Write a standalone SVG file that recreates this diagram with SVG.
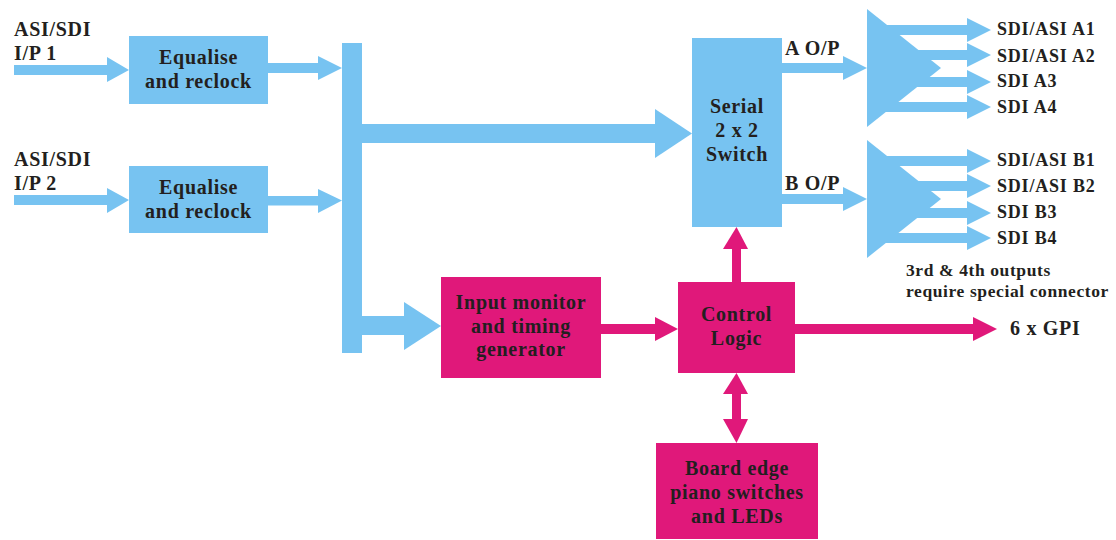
<svg xmlns="http://www.w3.org/2000/svg" width="1116" height="540" viewBox="0 0 1116 540">
<style>
text{font-family:"Liberation Serif","Times New Roman",serif;font-weight:bold;fill:#231f20;font-size:20px;letter-spacing:0.7px}
.c{text-anchor:middle}
.o{font-size:18px;letter-spacing:0.8px}
.n{font-size:17.5px;letter-spacing:0.6px}
.blue{fill:#77c3f1}
.mag{fill:#e0187a}
</style>
<rect width="1116" height="540" fill="#ffffff"/>
<g id="connectors">
  <g class="blue">
    <!-- inputs -->
    <rect x="14" y="65" width="94" height="10"/>
    <polygon points="107,57 129,70 107,82"/>
    <rect x="14" y="195" width="94" height="10"/>
    <polygon points="107,188 129,200 107,213"/>
    <!-- equaliser outputs -->
    <rect x="268" y="63" width="51" height="10"/>
    <polygon points="318,56 342,68 318,80"/>
    <rect x="268" y="196" width="51" height="9.5"/>
    <polygon points="318,189 342,200.5 318,213"/>
    <!-- bus -->
    <rect x="342" y="43" width="20" height="310"/>
    <rect x="361" y="124" width="295" height="19"/>
    <polygon points="655,109 692,133.5 655,158"/>
    <rect x="361" y="316" width="44" height="19"/>
    <polygon points="404,302 441,326 404,350"/>
    <!-- A/B outputs -->
    <rect x="782" y="63" width="62" height="10"/>
    <polygon points="843,56 867,68 843,80"/>
    <rect x="782" y="194" width="62" height="10"/>
    <polygon points="843,187 867,199 843,211"/>
  </g>
  <g class="mag">
    <rect x="601" y="324" width="55" height="10"/>
    <polygon points="655,317 678,329 655,341"/>
    <rect x="732" y="248" width="9" height="35"/>
    <polygon points="723,249 736.5,227 748,249"/>
    <rect x="732" y="393" width="9" height="27"/>
    <polygon points="723,394 736.5,373 748,394"/>
    <polygon points="723,419 736.5,443 748,419"/>
    <rect x="795" y="324" width="179" height="10"/>
    <polygon points="973,317 997,329 973,341"/>
  </g>
</g>
<g id="input1">
  <text x="14" y="36">ASI/SDI</text>
  <text x="14" y="60">I/P 1</text>
</g>
<g id="input2">
  <text x="14" y="166">ASI/SDI</text>
  <text x="14" y="190">I/P 2</text>
</g>
<g id="equalise1">
  <rect class="blue" x="129" y="36" width="139" height="68"/>
  <text class="c" x="198.5" y="64">Equalise</text>
  <text class="c" x="198.5" y="88">and reclock</text>
</g>
<g id="equalise2">
  <rect class="blue" x="129" y="166" width="139" height="67"/>
  <text class="c" x="198.5" y="194">Equalise</text>
  <text class="c" x="198.5" y="218">and reclock</text>
</g>
<g id="switch">
  <rect class="blue" x="692" y="38" width="90" height="189"/>
  <text class="c" x="737" y="113">Serial</text>
  <text class="c" x="737" y="137">2 x 2</text>
  <text class="c" x="737" y="161">Switch</text>
  <text x="785" y="55">A O/P</text>
  <text x="785" y="190">B O/P</text>
</g>
<g id="fanA">
  <g class="blue">
    <polygon points="867,9 941,68 867,127"/>
    <rect x="875" y="25" width="93" height="10"/>
    <polygon points="967,18 991,30 967,42"/>
    <rect x="875" y="50" width="93" height="10"/>
    <polygon points="967,43 991,55 967,67"/>
    <rect x="875" y="77" width="93" height="10"/>
    <polygon points="967,70 991,82 967,94"/>
    <rect x="875" y="102" width="93" height="10"/>
    <polygon points="967,95 991,107 967,119"/>
  </g>
  <text class="o" x="997" y="35">SDI/ASI A1</text>
  <text class="o" x="997" y="62">SDI/ASI A2</text>
  <text class="o" x="997" y="87">SDI A3</text>
  <text class="o" x="997" y="113">SDI A4</text>
</g>
<g id="fanB">
  <g class="blue">
    <polygon points="867,140 941,199 867,258"/>
    <rect x="875" y="156" width="93" height="10"/>
    <polygon points="967,149 991,161 967,173"/>
    <rect x="875" y="181" width="93" height="10"/>
    <polygon points="967,174 991,186 967,198"/>
    <rect x="875" y="208" width="93" height="10"/>
    <polygon points="967,201 991,213 967,225"/>
    <rect x="875" y="233" width="93" height="10"/>
    <polygon points="967,226 991,238 967,250"/>
  </g>
  <text class="o" x="997" y="166">SDI/ASI B1</text>
  <text class="o" x="997" y="192">SDI/ASI B2</text>
  <text class="o" x="997" y="218">SDI B3</text>
  <text class="o" x="997" y="244">SDI B4</text>
</g>
<g id="note">
  <text class="n" x="906" y="276">3rd &amp; 4th outputs</text>
  <text class="n" x="906" y="297">require special connector</text>
</g>
<g id="monitor">
  <rect class="mag" x="441" y="277" width="160" height="101"/>
  <text class="c" x="521" y="309">Input monitor</text>
  <text class="c" x="521" y="333">and timing</text>
  <text class="c" x="521" y="356">generator</text>
</g>
<g id="control">
  <rect class="mag" x="678" y="282" width="117" height="91"/>
  <text class="c" x="736.5" y="321">Control</text>
  <text class="c" x="736.5" y="345">Logic</text>
</g>
<g id="gpi">
  <text x="1010" y="335">6 x GPI</text>
</g>
<g id="board">
  <rect class="mag" x="656" y="443" width="162" height="96"/>
  <text class="c" x="737" y="475">Board edge</text>
  <text class="c" x="737" y="499">piano switches</text>
  <text class="c" x="737" y="523">and LEDs</text>
</g>
</svg>
